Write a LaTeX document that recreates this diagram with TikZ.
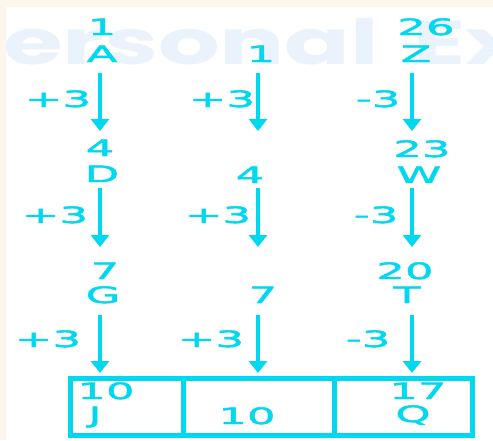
\documentclass[tikz,border=0pt]{standalone}
\usepackage{fontspec}
\usetikzlibrary{arrows.meta}
\newfontfamily\lblfont[FakeStretch=2.0,FakeBold=2]{DejaVu Sans}
\newfontfamily\wmfont[FakeStretch=1.56]{Poppins Bold}
\definecolor{cy}{RGB}{0,215,240}
\definecolor{cream}{RGB}{253,246,236}
\definecolor{wmc}{RGB}{234,242,252}
\begin{document}
\begin{tikzpicture}[x=1pt,y=-1pt,
  lbl/.style={font=\lblfont\fontsize{22.5}{22.5}\selectfont, text=cy, inner sep=0pt, anchor=base},
  arr/.style={draw=cy, line width=3.5pt, -{Triangle[width=18pt,length=12pt]}},
  cell/.style={draw=cy, line width=5pt, rectangle, inner sep=0pt, anchor=north west}]
\useasboundingbox (0,0) rectangle (493,440);
\clip (0,0) rectangle (493,440);
\fill[cream] (0,0) rectangle (493,440);
\fill[white] (6,7) rectangle (493,440);
\node[anchor=base west, inner sep=0pt, text=wmc, font=\wmfont\fontsize{62}{62}\selectfont] (wm) at (3,64) {ersonal\hspace{14pt} Ex};
% left column
\node[lbl] (l1) at (102,35) {1};
\node[lbl] (lA) at (102,62) {A};
\node[lbl] (lp1) at (58,107) {+3};
\node[lbl] (l4) at (100,156) {4};
\node[lbl] (lD) at (102,182) {D};
\node[lbl] (lp2) at (55,223) {+3};
\node[lbl] (l7) at (105,279) {7};
\node[lbl] (lG) at (103,303) {G};
\node[lbl] (lp3) at (48,347) {+3};
% middle column
\node[lbl] (m1) at (261,62) {1};
\node[lbl] (mp1) at (222,107) {+3};
\node[lbl] (m4) at (250,183) {4};
\node[lbl] (mp2) at (218,223) {+3};
\node[lbl] (m7) at (263,303) {7};
\node[lbl] (mp3) at (211,347) {+3};
% right column
\node[lbl] (r26) at (426,35) {26};
\node[lbl] (rZ) at (416,62) {Z};
\node[lbl] (rm1) at (378,107) {-3};
\node[lbl] (r23) at (422,157) {23};
\node[lbl] (rW) at (419,183) {W};
\node[lbl] (rm2) at (376,223) {-3};
\node[lbl] (r20) at (405,279) {20};
\node[lbl] (rT) at (407,303) {T};
\node[lbl] (rm3) at (368,347) {-3};
% result boxes
\node[cell, minimum width=113.5pt, minimum height=57pt] (cL) at (67.5,375.5) {};
\node[cell, minimum width=151pt, minimum height=57pt] (cM) at (181,375.5) {};
\node[cell, minimum width=137.5pt, minimum height=57pt] (cR) at (332,375.5) {};
\node[lbl] (b10) at (106,399) {10};
\node[lbl] (bJ) at (95,423) {J};
\node[lbl] (b10m) at (247,424) {10};
\node[lbl] (b17) at (418,399) {17};
\node[lbl] (bQ) at (413,422) {Q};
% arrows
\foreach \n/\x in {l/100,m/258,r/412}{
  \coordinate (\n s1) at (\x,73);  \coordinate (\n e1) at (\x,131);
  \coordinate (\n s2) at (\x,188); \coordinate (\n e2) at (\x,247);
  \coordinate (\n s3) at (\x,315); \coordinate (\n e3) at (\x,373);
  \draw[arr] (\n s1) -- (\n e1);
  \draw[arr] (\n s2) -- (\n e2);
  \draw[arr] (\n s3) -- (\n e3);
}
\end{tikzpicture}
\end{document}
